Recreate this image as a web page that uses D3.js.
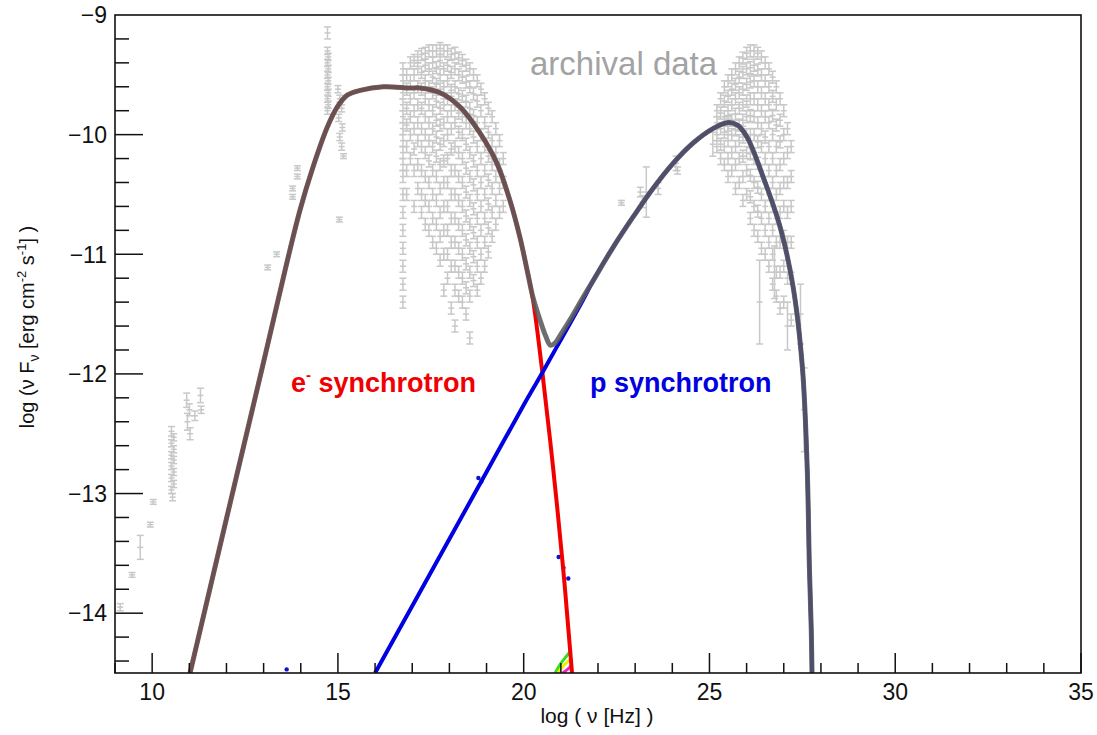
<!DOCTYPE html>
<html>
<head>
<meta charset="utf-8">
<script src="https://cdn.jsdelivr.net/npm/d3@7"></script>
<style>
  body { margin: 0; background: #fff; }
  text { font-family: "Liberation Sans", Arial, sans-serif; }
</style>
</head>
<body>
<script>
// model curves: [log nu, log nuFnu]
var eSynch = [[11.02,-14.5],[12.0,-13.21],[13.0,-11.9],[13.58,-11.13],[13.98,-10.63],[14.33,-10.27],[14.71,-9.94],[14.98,-9.77],[15.25,-9.67],[15.6,-9.63],[16.22,-9.6],[16.94,-9.61],[17.21,-9.61],[17.75,-9.65],[18.29,-9.77],[18.83,-9.99],[19.28,-10.24],[19.63,-10.55],[19.9,-10.86],[20.09,-11.13],[20.25,-11.38],[20.5,-11.98],[20.79,-12.78],[21.06,-13.62],[21.25,-14.31],[21.3,-14.5]];
var pSynch = [[16.0,-14.5],[17.0,-13.94],[18.0,-13.38],[19.0,-12.82],[20.0,-12.26],[20.52,-11.98],[20.9,-11.77],[21.6,-11.38],[21.87,-11.22],[22.41,-10.94],[22.94,-10.69],[23.48,-10.45],[24.02,-10.24],[24.56,-10.07],[25.09,-9.95],[25.47,-9.9],[25.75,-9.92],[26.01,-10.02],[26.44,-10.35],[26.9,-10.77],[27.25,-11.27],[27.5,-11.94],[27.63,-12.78],[27.69,-13.62],[27.74,-14.14],[27.76,-14.5]];
var total = [[11.02,-14.5],[12.0,-13.21],[13.0,-11.9],[13.58,-11.13],[13.98,-10.63],[14.33,-10.27],[14.71,-9.94],[14.98,-9.77],[15.25,-9.67],[15.6,-9.63],[16.22,-9.6],[16.94,-9.61],[17.21,-9.61],[17.75,-9.65],[18.29,-9.77],[18.83,-9.99],[19.28,-10.24],[19.63,-10.55],[19.9,-10.86],[20.09,-11.13],[20.25,-11.36],[20.45,-11.56],[20.6,-11.69],[20.72,-11.76],[20.85,-11.74],[21.0,-11.67],[21.3,-11.52],[21.6,-11.36],[21.87,-11.22],[22.41,-10.94],[22.94,-10.69],[23.48,-10.45],[24.02,-10.24],[24.56,-10.07],[25.09,-9.95],[25.47,-9.9],[25.75,-9.92],[26.01,-10.02],[26.44,-10.35],[26.9,-10.77],[27.25,-11.27],[27.5,-11.94],[27.63,-12.78],[27.69,-13.62],[27.74,-14.14],[27.76,-14.5]];

// small extra components at the bottom
var greenComp = [[20.85,-14.5],[21.0,-14.42],[21.15,-14.36],[21.28,-14.31]];
var yellowComp = [[20.92,-14.5],[21.1,-14.43],[21.28,-14.38]];
var magentaComp = [[21.05,-14.5],[21.18,-14.47],[21.28,-14.44]];
var blueDots = [[20.94,-13.53],[21.07,-13.62],[21.2,-13.71],[18.78,-12.87],[18.86,-12.9],[13.62,-14.47]];

// archival data: single points [x, y, err]
var archival = [
  [9.14,-13.95,0.03],[9.46,-13.68,0.02],[9.68,-13.45,0.1],[9.95,-13.26,0.02],[10.03,-13.07,0.02],
  [10.52,-12.48,0.04],[10.58,-12.53,0.03],[10.52,-12.58,0.03],[10.58,-12.63,0.03],[10.52,-12.68,0.03],[10.58,-12.72,0.03],[10.52,-12.77,0.03],[10.58,-12.82,0.03],[10.52,-12.87,0.03],[10.58,-12.92,0.03],[10.52,-12.97,0.03],[10.55,-13.03,0.03],
  [10.93,-12.22,0.06],[11.0,-12.3,0.05],[10.95,-12.4,0.07],[11.02,-12.5,0.05],[11.15,-12.35,0.04],[11.3,-12.18,0.06],[11.32,-12.3,0.03],
  [13.11,-11.11,0.02],[13.35,-11.0,0.02],[13.78,-10.45,0.02],[13.78,-10.52,0.02],[13.91,-10.28,0.02],[13.91,-10.35,0.02],[15.04,-10.71,0.02],
  [14.72,-9.15,0.05],[14.72,-9.3,0.03],[14.74,-9.35,0.03],[14.72,-9.4,0.03],[14.74,-9.45,0.03],[14.72,-9.5,0.03],[14.74,-9.55,0.03],[14.72,-9.6,0.03],[14.74,-9.65,0.03],[14.72,-9.7,0.03],[14.74,-9.75,0.03],[14.72,-9.8,0.03],
  [15.0,-9.62,0.03],[15.05,-9.7,0.03],[15.1,-9.78,0.03],[15.02,-9.86,0.03],[15.12,-9.94,0.03],[15.05,-10.02,0.03],[15.1,-10.1,0.03],[15.15,-10.18,0.02],
  [22.63,-10.57,0.02],[23.14,-10.48,0.04],[23.3,-10.48,0.21],[23.2,-10.56,0.05],[23.62,-10.45,0.05],[24.1,-10.24,0.06],[24.14,-10.3,0.03],
  [26.35,-11.4,0.35],[26.75,-11.15,0.22],[27.1,-11.6,0.2],[27.45,-11.5,0.25],[27.55,-12.3,0.35],[25.09,-10.08,0.1],[25.5,-9.92,0.08]
];

// archival data: dense columns [x, [y...]]
var xrayCols = [
  [16.75,[-9.45,-9.55,-9.65,-9.75,-9.85,-9.95,-10.05,-10.15,-10.25,-10.35,-10.5,-10.65,-10.8,-10.95,-11.1,-11.25,-11.4]],
  [16.85,[-9.5,-9.62,-9.78,-9.92,-10.1,-10.3,-10.5]],
  [16.95,[-9.4,-9.55,-9.7,-9.85,-10.0,-10.2]],
  [17.05,[-9.38,-9.5,-9.65,-9.8,-9.95,-10.12,-10.3,-10.6]],
  [17.15,[-9.35,-9.45,-9.6,-9.75,-9.9,-10.05,-10.25,-10.45]],
  [17.25,[-9.33,-9.48,-9.62,-9.78,-9.95,-10.1,-10.3,-10.5,-10.65]],
  [17.35,[-9.32,-9.42,-9.55,-9.7,-9.85,-10.0,-10.15,-10.35,-10.55,-10.75]],
  [17.45,[-9.3,-9.45,-9.6,-9.75,-9.9,-10.05,-10.22,-10.4,-10.6,-10.8]],
  [17.55,[-9.3,-9.4,-9.52,-9.65,-9.8,-9.95,-10.1,-10.3,-10.5,-10.7,-10.9]],
  [17.65,[-9.3,-9.44,-9.58,-9.72,-9.88,-10.02,-10.18,-10.35,-10.55,-10.75,-10.95]],
  [17.75,[-9.28,-9.38,-9.5,-9.62,-9.78,-9.92,-10.08,-10.25,-10.45,-10.65,-10.85,-11.05]],
  [17.85,[-9.3,-9.45,-9.6,-9.75,-9.9,-10.05,-10.22,-10.4,-10.6,-10.8,-11.0,-11.3]],
  [17.95,[-9.3,-9.42,-9.55,-9.7,-9.85,-10.0,-10.2,-10.4,-10.6,-10.8,-11.0,-11.2]],
  [18.05,[-9.33,-9.48,-9.63,-9.8,-9.95,-10.12,-10.3,-10.5,-10.7,-10.9,-11.1,-11.45]],
  [18.15,[-9.32,-9.45,-9.6,-9.75,-9.9,-10.1,-10.3,-10.5,-10.7,-10.9,-11.1,-11.3,-11.6]],
  [18.25,[-9.36,-9.5,-9.66,-9.82,-9.98,-10.15,-10.35,-10.55,-10.75,-10.95,-11.15,-11.35]],
  [18.35,[-9.38,-9.52,-9.68,-9.85,-10.0,-10.2,-10.4,-10.6,-10.8,-11.0,-11.2,-11.4]],
  [18.45,[-9.42,-9.56,-9.72,-9.9,-10.08,-10.28,-10.48,-10.68,-10.88,-11.08,-11.28,-11.5]],
  [18.55,[-9.45,-9.6,-9.78,-9.95,-10.15,-10.35,-10.55,-10.75,-10.95,-11.15,-11.35,-11.7]],
  [18.65,[-9.5,-9.66,-9.84,-10.02,-10.22,-10.42,-10.62,-10.82,-11.02,-11.22]],
  [18.75,[-9.55,-9.72,-9.9,-10.1,-10.3,-10.5,-10.7,-10.9,-11.1,-11.3]],
  [18.85,[-9.62,-9.8,-10.0,-10.2,-10.4,-10.6,-10.8,-11.0,-11.2]],
  [18.95,[-9.7,-9.9,-10.1,-10.3,-10.5,-10.7,-10.9,-11.1]],
  [19.05,[-9.78,-9.98,-10.18,-10.38,-10.58,-10.78,-10.98]],
  [19.15,[-9.85,-10.05,-10.25,-10.45,-10.65,-10.85]],
  [19.25,[-9.95,-10.15,-10.35,-10.55,-10.75]],
  [19.35,[-10.05,-10.25,-10.45,-10.65]],
  [19.45,[-10.2,-10.4,-10.6]]
];
var tevCols = [
  [25.2,[-9.8,-9.9,-10.0,-10.1]],
  [25.3,[-9.7,-9.82,-9.95,-10.08,-10.2]],
  [25.4,[-9.6,-9.72,-9.85,-9.98,-10.1,-10.25]],
  [25.5,[-9.55,-9.68,-9.8,-9.92,-10.05,-10.2,-10.35]],
  [25.6,[-9.5,-9.62,-9.75,-9.88,-10.0,-10.15,-10.3]],
  [25.7,[-9.45,-9.58,-9.7,-9.83,-9.96,-10.1,-10.25,-10.45]],
  [25.8,[-9.4,-9.52,-9.65,-9.78,-9.92,-10.05,-10.2,-10.4]],
  [25.9,[-9.36,-9.48,-9.62,-9.75,-9.88,-10.02,-10.18,-10.35,-10.55]],
  [26.0,[-9.32,-9.45,-9.58,-9.72,-9.85,-10.0,-10.15,-10.3,-10.5]],
  [26.1,[-9.3,-9.44,-9.56,-9.7,-9.84,-10.0,-10.16,-10.34,-10.52,-10.7]],
  [26.2,[-9.3,-9.42,-9.55,-9.7,-9.85,-10.0,-10.2,-10.4,-10.6,-10.8]],
  [26.3,[-9.32,-9.46,-9.6,-9.75,-9.9,-10.06,-10.24,-10.44,-10.64,-10.85]],
  [26.4,[-9.35,-9.5,-9.65,-9.8,-9.95,-10.1,-10.3,-10.5,-10.7,-10.95]],
  [26.5,[-9.4,-9.55,-9.7,-9.85,-10.02,-10.2,-10.4,-10.6,-10.8,-11.0]],
  [26.6,[-9.45,-9.6,-9.75,-9.9,-10.1,-10.3,-10.5,-10.7,-10.9,-11.1]],
  [26.7,[-9.52,-9.68,-9.84,-10.0,-10.2,-10.4,-10.6,-10.8,-11.0,-11.25]],
  [26.8,[-9.6,-9.75,-9.92,-10.1,-10.3,-10.5,-10.7,-10.9,-11.15,-11.35]],
  [26.9,[-9.7,-9.88,-10.06,-10.25,-10.45,-10.65,-10.9,-11.15,-11.45]],
  [27.0,[-9.8,-10.0,-10.2,-10.4,-10.6,-10.85,-11.1,-11.4]],
  [27.1,[-9.95,-10.15,-10.4,-10.65,-10.9,-11.2]],
  [27.2,[-10.1,-10.35,-10.6,-10.9,-11.2,-11.55]]
];

var xTicks = [10, 15, 20, 25, 30, 35];
var yTicks = [-9, -10, -11, -12, -13, -14];

var W = 1097, H = 735;
var margin = {left: 115, top: 15, right: 16, bottom: 62};

var x = d3.scaleLinear().domain([9, 35]).range([margin.left, W - margin.right]);
var y = d3.scaleLinear().domain([-14.5, -9]).range([H - margin.bottom, margin.top]);

var svg = d3.select("body").append("svg")
    .attr("width", W)
    .attr("height", H);

svg.append("clipPath").attr("id", "clip")
  .append("rect")
    .attr("x", x(9)).attr("y", y(-9))
    .attr("width", x(35) - x(9)).attr("height", y(-14.5) - y(-9));

var plot = svg.append("g").attr("clip-path", "url(#clip)");

// flatten archival columns
var pts = archival.slice();
xrayCols.concat(tevCols).forEach(function(c) {
  c[1].forEach(function(v) { pts.push([c[0], v, 0.05]); });
});

var grey = "#c8c8c8";
var eb = plot.append("g").attr("stroke", grey).attr("stroke-width", 1.5);
pts.forEach(function(d) {
  var cx = x(d[0]), y0 = y(d[1] - d[2]), y1 = y(d[1] + d[2]);
  eb.append("line").attr("x1", cx).attr("x2", cx).attr("y1", y0).attr("y2", y1);
  eb.append("line").attr("x1", cx - 3.5).attr("x2", cx + 3.5).attr("y1", y0).attr("y2", y0);
  eb.append("line").attr("x1", cx - 3.5).attr("x2", cx + 3.5).attr("y1", y1).attr("y2", y1);
  eb.append("line").attr("x1", cx - 3).attr("x2", cx + 3).attr("y1", y(d[1])).attr("y2", y(d[1]));
});

var line = d3.line()
    .x(function(d) { return x(d[0]); })
    .y(function(d) { return y(d[1]); })
    .curve(d3.curveCatmullRom.alpha(0.5));

plot.append("path").datum(greenComp).attr("d", line)
    .attr("fill", "none").attr("stroke", "#33dd22").attr("stroke-width", 3);
plot.append("path").datum(yellowComp).attr("d", line)
    .attr("fill", "none").attr("stroke", "#eeee00").attr("stroke-width", 3);
plot.append("path").datum(magentaComp).attr("d", line)
    .attr("fill", "none").attr("stroke", "#ee22cc").attr("stroke-width", 3);

plot.selectAll(".bdot").data(blueDots).enter().append("circle")
    .attr("cx", function(d) { return x(d[0]); })
    .attr("cy", function(d) { return y(d[1]); })
    .attr("r", 2.2)
    .attr("fill", "#1010d0");

plot.append("path").datum(eSynch).attr("d", line)
    .attr("fill", "none").attr("stroke", "#f20000").attr("stroke-width", 4);
plot.append("path").datum(pSynch).attr("d", line)
    .attr("fill", "none").attr("stroke", "#0000e0").attr("stroke-width", 4);
plot.append("path").datum(total).attr("d", line)
    .attr("fill", "none").attr("stroke", "#5a5a5a").attr("stroke-opacity", 0.88)
    .attr("stroke-width", 5).attr("stroke-linejoin", "round");

// frame
svg.append("rect")
    .attr("x", x(9)).attr("y", y(-9))
    .attr("width", x(35) - x(9)).attr("height", y(-14.5) - y(-9))
    .attr("fill", "none").attr("stroke", "#111").attr("stroke-width", 1.6);

// x ticks (inside, ROOT style)
var xAx = svg.append("g").attr("stroke", "#111").attr("stroke-width", 1.5);
d3.range(9, 36).forEach(function(v) {
  var major = xTicks.indexOf(v) >= 0;
  xAx.append("line").attr("x1", x(v)).attr("x2", x(v))
     .attr("y1", y(-14.5)).attr("y2", y(-14.5) - (major ? 20 : 10));
});
svg.selectAll(".xl").data(xTicks).enter().append("text")
    .attr("x", function(d) { return x(d); })
    .attr("y", 700)
    .attr("text-anchor", "middle")
    .attr("font-size", 23)
    .attr("fill", "#111")
    .text(function(d) { return d; });

var yAx = svg.append("g").attr("stroke", "#111").attr("stroke-width", 1.5);
d3.range(0, 28).forEach(function(i) {
  var v = -14.4 + i * 0.2;
  var major = Math.abs(v - Math.round(v)) < 1e-6;
  if (v > -9.01) return;
  yAx.append("line").attr("x1", x(9)).attr("x2", x(9) + (major ? 28 : 14))
     .attr("y1", y(v)).attr("y2", y(v));
});
svg.selectAll(".yl").data(yTicks).enter().append("text")
    .attr("x", 107)
    .attr("y", function(d) { return y(d); })
    .attr("dy", "0.36em")
    .attr("text-anchor", "end")
    .attr("font-size", 23)
    .attr("fill", "#111")
    .text(function(d) { return "\u2212" + Math.abs(d); });

// axis titles
svg.append("text")
    .attr("x", 597).attr("y", 723)
    .attr("text-anchor", "middle")
    .attr("font-size", 21)
    .attr("fill", "#111")
    .text("log ( \u03bd [Hz] )");

var yt = svg.append("text")
    .attr("transform", "translate(34,327) rotate(-90)")
    .attr("text-anchor", "middle")
    .attr("font-size", 20)
    .attr("fill", "#111");
yt.append("tspan").text("log (\u03bd F");
yt.append("tspan").attr("font-size", 14).attr("dy", 5).text("\u03bd");
yt.append("tspan").attr("dy", -5).text(" [erg cm");
yt.append("tspan").attr("font-size", 13).attr("dy", -8).text("-2");
yt.append("tspan").attr("dy", 8).text(" s");
yt.append("tspan").attr("font-size", 13).attr("dy", -8).text("-1");
yt.append("tspan").attr("dy", 8).text("] )");

// annotations
svg.append("text")
    .attr("x", 530).attr("y", 75)
    .attr("font-family", "Open Sans")
    .attr("font-size", 33)
    .attr("fill", "#a3a3a3")
    .text("archival data");

var et = svg.append("text")
    .attr("x", 291).attr("y", 392)
    .attr("font-family", "Open Sans")
    .attr("font-weight", "bold")
    .attr("font-size", 27)
    .attr("fill", "#f00000");
et.append("tspan").text("e");
et.append("tspan").attr("font-size", 15).attr("dy", -12).text("-");
et.append("tspan").attr("dy", 12).text(" synchrotron");

svg.append("text")
    .attr("x", 590).attr("y", 392)
    .attr("font-family", "Open Sans")
    .attr("font-weight", "bold")
    .attr("font-size", 27)
    .attr("fill", "#0000e0")
    .text("p synchrotron");
</script>
</body>
</html>
